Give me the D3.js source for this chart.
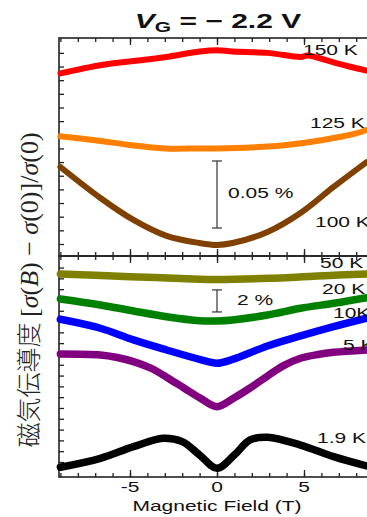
<!DOCTYPE html>
<html>
<head>
<meta charset="utf-8">
<script src="https://cdn.jsdelivr.net/npm/d3@7"></script>
<style>
  body { margin: 0; background: #fff; }
  svg { display: block; }
</style>
</head>
<body>
<div id="chart"></div>
<script>
// magnetic field samples (T) and conductance change (%) per temperature
var fieldTop = [-9.0, -6.7, -4.8, -2.9, -1.0, 0, 0.9, 2.9, 4.8, 5.2, 6.7, 7.6, 8.6]
var k150 = [0.125, 0.131, 0.134, 0.137, 0.141, 0.142, 0.141, 0.140, 0.137, 0.138, 0.133, 0.130, 0.127]

var fieldOrange = [-9.0, -7, -5, -3, -1, 0, 2, 4, 6, 8, 8.6]
var k125 = [0.079, 0.076, 0.0725, 0.070, 0.070, 0.070, 0.0707, 0.0725, 0.076, 0.081, 0.0835]

var fieldBrown = [-9.0, -6.7, -4.8, -2.9, -1.0, 0, 0.9, 2.9, 4.8, 6.7, 8.6]
var k100 = [0.0564, 0.0337, 0.0176, 0.0059, 0.0007, -0.0007, 0.0007, 0.0088, 0.0227, 0.0418, 0.060]

var fieldOlive = [-9.0, -5, -1, 0, 3, 6.7, 8.6]
var k50 = [17.41, 17.16, 16.92, 16.90, 17.01, 17.29, 17.41]

var fieldMid = [-9.0, -6.7, -4.8, -2.9, -1.0, 0, 0.9, 2.9, 4.8, 6.7, 8.6]
var k20 = [15.09, 14.54, 13.98, 13.45, 13.08, 13.06, 13.15, 13.61, 14.23, 14.69, 15.21]
var k10 = [13.21, 12.38, 11.30, 10.37, 9.50, 9.14, 9.50, 10.74, 11.67, 12.53, 13.31]

var fieldPurple = [-9.0, -6.7, -5.8, -4.8, -3.8, -2.9, -1.9, -1.0, 0, 1.0, 1.9, 2.9, 3.8, 4.8, 5.8, 6.7, 8.6]
var k5 = [10.0, 9.91, 9.7, 9.29, 8.68, 7.85, 6.85, 5.95, 5.12, 5.95, 6.85, 7.95, 8.9, 9.6, 9.95, 10.15, 10.37]

var fieldBlack = [-9.0, -6.7, -4.8, -3.1, -2.0, -1.0, 0, 1.0, 1.9, 2.9, 4.8, 6.7, 8.6]
var k1p9 = [-0.49, 0.34, 1.42, 2.19, 1.88, 0.65, -0.58, 0.65, 2.04, 2.29, 1.57, 0.49, -0.37]

var topSeries = [
  {label: '150 K', xs: fieldTop, ys: k150, color: '#ff0000'},
  {label: '125 K', xs: fieldOrange, ys: k125, color: '#ff8000'},
  {label: '100 K', xs: fieldBrown, ys: k100, color: '#804000'}
]
var botSeries = [
  {label: '50 K', xs: fieldOlive, ys: k50, color: '#808000'},
  {label: '20 K', xs: fieldMid, ys: k20, color: '#008000'},
  {label: '10K', xs: fieldMid, ys: k10, color: '#0000ff'},
  {label: '5 K', xs: fieldPurple, ys: k5, color: '#800080'},
  {label: '1.9 K', xs: fieldBlack, ys: k1p9, color: '#000000'}
]
var xTickLabels = [-5, 0, 5]

var W = 367, H = 517
var left = 59, right = 375
var stretch = 1.5   // the figure text is drawn wide
var svg = d3.select('#chart').append('svg').attr('width', W).attr('height', H)

var x = d3.scaleLinear().domain([-9.08, 9.08]).range([left, right])
var yTop = d3.scaleLinear().domain([-0.0088, 0.1509]).range([256, 38])
var yBot = d3.scaleLinear().domain([-1.39, 19.07]).range([477, 256])

function label(px, py, str, size, anchor){
  return svg.append('text')
    .attr('transform', 'translate(' + px + ',' + py + ') scale(' + stretch + ',1)')
    .attr('text-anchor', anchor || 'start')
    .attr('font-family', 'Liberation Sans, Arial, sans-serif')
    .attr('font-size', size)
    .attr('fill', '#111')
    .text(str)
}

function frame(y, ticks, top, bottom){
  var g = svg.append('g')
  var minor = d3.range(-9, 10)
  g.append('g').attr('transform', 'translate(0,' + bottom + ')')
    .call(d3.axisTop(x).tickValues(minor).tickSizeInner(4).tickSizeOuter(0).tickFormat(''))
  g.append('g').attr('transform', 'translate(0,' + top + ')')
    .call(d3.axisBottom(x).tickValues(minor).tickSizeInner(4).tickSizeOuter(0).tickFormat(''))
  g.append('g').attr('transform', 'translate(0,' + bottom + ')')
    .call(d3.axisTop(x).tickValues(xTickLabels).tickSizeInner(7).tickSizeOuter(0).tickFormat(''))
  g.append('g').attr('transform', 'translate(0,' + top + ')')
    .call(d3.axisBottom(x).tickValues(xTickLabels).tickSizeInner(7).tickSizeOuter(0).tickFormat(''))
  g.append('g').attr('transform', 'translate(' + left + ',0)')
    .call(d3.axisRight(y).tickValues(ticks).tickSizeInner(5).tickSizeOuter(0).tickFormat(''))
  g.append('g').attr('transform', 'translate(' + right + ',0)')
    .call(d3.axisLeft(y).tickValues(ticks).tickSizeInner(8).tickSizeOuter(0).tickFormat(''))
  g.selectAll('.domain').remove()
  g.selectAll('line').attr('stroke', '#222').attr('stroke-width', 1.3)
  g.append('rect').attr('x', left).attr('y', top).attr('width', right - left).attr('height', bottom - top)
    .attr('fill', 'none').attr('stroke', '#222').attr('stroke-width', 1.6)
}

frame(yTop, d3.range(0, 0.145, 0.01), 38, 256)
frame(yBot, d3.range(0, 18.5, 1), 256, 477)

function drawCurves(series, y, width){
  series.forEach(function(s){
    var pts = s.xs.map(function(b, i){ return [x(b), y(s.ys[i])] })
    svg.append('path')
      .attr('d', d3.line().curve(d3.curveCatmullRom.alpha(0.5))(pts))
      .attr('fill', 'none')
      .attr('stroke', s.color)
      .attr('stroke-width', width)
      .attr('stroke-linecap', 'round')
      .attr('stroke-linejoin', 'round')
  })
}
drawCurves(topSeries, yTop, 6)
drawCurves(botSeries, yBot, 7.5)

// curve labels
var labelPos = [[303, 55], [310, 128], [315, 227], [320, 268], [322, 294], [333, 318], [343, 350], [317, 443]]
topSeries.concat(botSeries).forEach(function(s, i){
  label(labelPos[i][0], labelPos[i][1], s.label, 14)
})

// scale bars
function scaleBar(y, lo, hi, txt, tx, ty){
  var bx = x(0)
  var g = svg.append('g').attr('stroke', '#333').attr('stroke-width', 1.2)
  g.append('line').attr('x1', bx).attr('x2', bx).attr('y1', y(lo)).attr('y2', y(hi))
  g.append('line').attr('x1', bx - 5).attr('x2', bx + 5).attr('y1', y(lo)).attr('y2', y(lo))
  g.append('line').attr('x1', bx - 5).attr('x2', bx + 5).attr('y1', y(hi)).attr('y2', y(hi))
  label(tx, ty, txt, 14)
}
scaleBar(yTop, 0.0117, 0.0608, '0.05 %', 228, 198)
scaleBar(yBot, 13.89, 15.93, '2 %', 237, 305)

// x tick labels
xTickLabels.forEach(function(d){ label(x(d), 492, d, 14, 'middle') })
label(x(0), 511, 'Magnetic Field (T)', 14, 'middle')

// title
var title = label(218, 28, '', 20, 'middle').attr('font-weight', 'bold')
title.append('tspan').attr('font-style', 'italic').text('V')
title.append('tspan').attr('font-size', 14).attr('dy', 4).text('G')
title.append('tspan').attr('dy', -4).text(' = \u2212 2.2 V')

// y label
var yl = svg.append('text').attr('transform', 'translate(38,290) rotate(-90)').attr('text-anchor', 'middle')
  .attr('font-size', 25).attr('fill', '#222')
yl.append('tspan').attr('font-family', 'Noto Sans CJK JP').attr('font-weight', 300).text('磁気伝導度 ')
var math = [['[', 0], ['σ', 1], ['(', 0], ['B', 1], [') − ', 0], ['σ', 1], ['(0)]/', 0], ['σ', 1], ['(0)', 0]]
math.forEach(function(m){
  yl.append('tspan').attr('font-family', 'Liberation Serif, DejaVu Serif, serif')
    .attr('font-size', 26)
    .attr('font-style', m[1] ? 'italic' : 'normal').text(m[0])
})
</script>
</body>
</html>
